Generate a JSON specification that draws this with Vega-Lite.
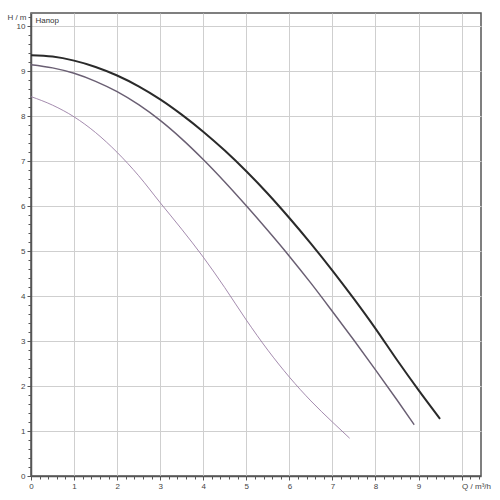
{
  "$schema": "https://vega.github.io/schema/vega-lite/v6.json",
  "autosize": {"type": "none"},
  "width": 450,
  "height": 463,
  "padding": {"left": 31, "top": 13, "right": 19, "bottom": 24},
  "background": "white",
  "config": {
    "font": "Liberation Sans",
    "view": {"stroke": "#555555", "strokeWidth": 1.5}
  },
  "data": {
    "values": [
      {"curve": "max", "q": 0, "h": 9.36},
      {"curve": "max", "q": 0.5, "h": 9.33},
      {"curve": "max", "q": 1, "h": 9.24},
      {"curve": "max", "q": 1.5, "h": 9.10},
      {"curve": "max", "q": 2, "h": 8.91},
      {"curve": "max", "q": 2.5, "h": 8.67},
      {"curve": "max", "q": 3, "h": 8.38},
      {"curve": "max", "q": 3.5, "h": 8.04},
      {"curve": "max", "q": 4, "h": 7.66},
      {"curve": "max", "q": 4.5, "h": 7.24},
      {"curve": "max", "q": 5, "h": 6.78},
      {"curve": "max", "q": 5.5, "h": 6.28},
      {"curve": "max", "q": 6, "h": 5.74},
      {"curve": "max", "q": 6.5, "h": 5.17},
      {"curve": "max", "q": 7, "h": 4.57},
      {"curve": "max", "q": 7.5, "h": 3.94},
      {"curve": "max", "q": 8, "h": 3.28},
      {"curve": "max", "q": 8.5, "h": 2.58},
      {"curve": "max", "q": 9, "h": 1.91},
      {"curve": "max", "q": 9.5, "h": 1.27},
      {"curve": "mid", "q": 0, "h": 9.15},
      {"curve": "mid", "q": 0.5, "h": 9.08},
      {"curve": "mid", "q": 1, "h": 8.96},
      {"curve": "mid", "q": 1.5, "h": 8.78},
      {"curve": "mid", "q": 2, "h": 8.55},
      {"curve": "mid", "q": 2.5, "h": 8.26},
      {"curve": "mid", "q": 3, "h": 7.91},
      {"curve": "mid", "q": 3.5, "h": 7.5},
      {"curve": "mid", "q": 4, "h": 7.04},
      {"curve": "mid", "q": 4.5, "h": 6.54},
      {"curve": "mid", "q": 5, "h": 6.01},
      {"curve": "mid", "q": 5.5, "h": 5.46},
      {"curve": "mid", "q": 6, "h": 4.89},
      {"curve": "mid", "q": 6.5, "h": 4.29},
      {"curve": "mid", "q": 7, "h": 3.66},
      {"curve": "mid", "q": 7.5, "h": 3.02},
      {"curve": "mid", "q": 8, "h": 2.36},
      {"curve": "mid", "q": 8.5, "h": 1.69},
      {"curve": "mid", "q": 8.9, "h": 1.14},
      {"curve": "min", "q": 0, "h": 8.44},
      {"curve": "min", "q": 0.5, "h": 8.25},
      {"curve": "min", "q": 1, "h": 7.99},
      {"curve": "min", "q": 1.5, "h": 7.64},
      {"curve": "min", "q": 2, "h": 7.2},
      {"curve": "min", "q": 2.5, "h": 6.68},
      {"curve": "min", "q": 3, "h": 6.08},
      {"curve": "min", "q": 3.5, "h": 5.49},
      {"curve": "min", "q": 4, "h": 4.87},
      {"curve": "min", "q": 4.5, "h": 4.19},
      {"curve": "min", "q": 5, "h": 3.47},
      {"curve": "min", "q": 5.5, "h": 2.8},
      {"curve": "min", "q": 6, "h": 2.2},
      {"curve": "min", "q": 6.5, "h": 1.67},
      {"curve": "min", "q": 7, "h": 1.2},
      {"curve": "min", "q": 7.4, "h": 0.84}
    ]
  },
  "mark": {"type": "line", "interpolate": "monotone"},
  "encoding": {
    "x": {
      "field": "q",
      "type": "quantitative",
      "scale": {"domain": [0, 10.45], "nice": false, "zero": false},
      "axis": {
        "title": null,
        "values": [0, 0.2, 0.4, 0.6, 0.8, 1, 1.2, 1.4, 1.6, 1.8, 2, 2.2, 2.4, 2.6, 2.8, 3, 3.2, 3.4, 3.6, 3.8, 4, 4.2, 4.4, 4.6, 4.8, 5, 5.2, 5.4, 5.6, 5.8, 6, 6.2, 6.4, 6.6, 6.8, 7, 7.2, 7.4, 7.6, 7.8, 8, 8.2, 8.4, 8.6, 8.8, 9, 9.2, 9.4, 9.6, 9.8, 10, 10.2, 10.4],
        "labelExpr": "datum.value === 10 ? 'Q / m³/h' : (datum.value % 1 === 0 ? '' + datum.value : '')",
        "labelAlign": {"condition": {"test": "datum.value === 10", "value": "left"}, "value": "center"},
        "labelFont": "Liberation Sans",
        "labelFontSize": 8,
        "labelColor": "#444444",
        "labelPadding": 2,
        "labelOverlap": false,
        "labelFlush": false,
        "domainColor": "#555555",
        "domainWidth": 1.5,
        "tickColor": "#555555",
        "tickSize": {"condition": {"test": "datum.value % 1 === 0", "value": 4}, "value": 3},
        "grid": true,
        "gridColor": "#cfcfcf",
        "gridWidth": 1,
        "gridOpacity": {"condition": {"test": "datum.value % 1 === 0", "value": 1}, "value": 0}
      }
    },
    "y": {
      "field": "h",
      "type": "quantitative",
      "scale": {"domain": [0, 10.3], "nice": false, "zero": false},
      "axis": {
        "title": "Напор",
        "titleAngle": 0,
        "titleX": 4,
        "titleY": 7,
        "titleAlign": "left",
        "titleBaseline": "middle",
        "titleFont": "Liberation Sans",
        "titleFontSize": 8,
        "titleFontWeight": "normal",
        "titleColor": "#333333",
        "values": [0, 0.2, 0.4, 0.6, 0.8, 1, 1.2, 1.4, 1.6, 1.8, 2, 2.2, 2.4, 2.6, 2.8, 3, 3.2, 3.4, 3.6, 3.8, 4, 4.2, 4.4, 4.6, 4.8, 5, 5.2, 5.4, 5.6, 5.8, 6, 6.2, 6.4, 6.6, 6.8, 7, 7.2, 7.4, 7.6, 7.8, 8, 8.2, 8.4, 8.6, 8.8, 9, 9.2, 9.4, 9.6, 9.8, 10, 10.2],
        "labelExpr": "datum.value === 10.2 ? 'H / m' : (datum.value % 1 === 0 ? '' + datum.value : '')",
        "labelFont": "Liberation Sans",
        "labelFontSize": 8,
        "labelColor": "#444444",
        "labelPadding": 2,
        "labelOverlap": false,
        "labelFlush": false,
        "domainColor": "#555555",
        "domainWidth": 1.5,
        "tickColor": "#555555",
        "tickSize": {"condition": {"test": "datum.value % 1 === 0", "value": 4}, "value": 3},
        "grid": true,
        "gridColor": "#cfcfcf",
        "gridWidth": 1,
        "gridOpacity": {"condition": {"test": "datum.value % 1 === 0", "value": 1}, "value": 0}
      }
    },
    "color": {
      "field": "curve",
      "type": "nominal",
      "scale": {"domain": ["max", "mid", "min"], "range": ["#2a2a2a", "#6a5f73", "#9a7ea5"]},
      "legend": null
    },
    "strokeWidth": {
      "field": "curve",
      "type": "nominal",
      "scale": {"domain": ["max", "mid", "min"], "range": [2, 0.9, 0.9]},
      "legend": null
    }
  }
}
